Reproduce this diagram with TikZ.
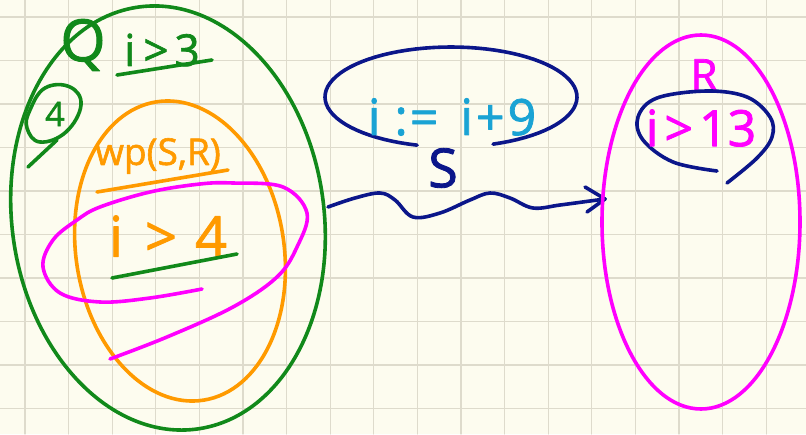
\documentclass[tikz,border=0pt]{standalone}
\usepackage{fontspec}
\setmainfont{Open Sans}[FakeBold=1.6]
\definecolor{bg}{HTML}{FDFCEF}
\definecolor{gridc}{HTML}{DEDBCC}
\definecolor{pgreen}{HTML}{11891A}
\definecolor{porange}{HTML}{FF9A00}
\definecolor{pmag}{HTML}{FF00FF}
\definecolor{pnavy}{HTML}{0B168A}
\definecolor{pcyan}{HTML}{1AA3D4}
\newcommand{\fs}[1]{\fontsize{#1}{#1}\selectfont}
\begin{document}
\begin{tikzpicture}[x=1pt,y=-1pt, line cap=round, line join=round,
  pen/.style={line width=3.6pt},
  gridline/.style={gridc, line width=1.1pt},
  txt/.style={inner sep=0pt, anchor=center}]
\fill[bg] (0,0) rectangle (806,434);
\useasboundingbox (0,0) rectangle (806,434);
\foreach \i in {0,...,18} \draw[gridline] ({25+43.6*\i},0) -- ({25+43.6*\i},434);
\foreach \j in {0,...,9} \draw[gridline] (0,{17+43.5*\j}) -- (806,{17+43.5*\j});

% left sets
\draw[pen,pgreen,rotate around={8:(168,218)}] (168,218) ellipse [x radius=156, y radius=213];
\draw[pen,porange,rotate around={9:(180,251)}] (180,251) ellipse [x radius=104, y radius=151];
\draw[pen,pmag] plot[smooth, tension=0.6] coordinates {(202,289) (150,298) (100,302) (60,293) (43,267) (53,240) (77,220) (100,207) (150,192) (200,184) (233,183) (283,187) (307,213) (297,247) (277,277) (233,307) (167,337) (110,359)};

\node[txt,pgreen] (q) at (83,45) {\fs{58}Q};
\node[txt,pgreen] (pre) at (162,50) {\fs{44}i\hspace{8pt}>\hspace{6pt}3};
\draw[pen,pgreen] (117,75) -- (212,60);
\draw[pen,pgreen] plot[smooth cycle, tension=0.7] coordinates {(30,110) (45,88) (70,87) (81,105) (66,132) (40,142) (27,128)};
\node[txt,pgreen] (four) at (55,114) {\fs{34}4};
\draw[pen,pgreen] (28,167) -- (57,140);

\node[txt,porange] (wp) at (158,156) {\fs{37}wp(S,R)};
\draw[pen,porange] (97,192) -- (228,170);
\node[txt,porange] (wpv) at (168,236) {\fs{56}i\hspace{22pt}>\hspace{18pt}4};
\draw[pen,pgreen] (112,278) -- (237,254);

% statement
\draw[pen,pnavy] plot[domain=105.6:430.5, samples=80] ({451+126*cos(\x)},{97+50*sin(\x)});
\node[txt,pcyan] (stmt) at (452,117) {\fs{50}i\hspace{14pt}:\hspace{2pt}=\hspace{22pt}i\hspace{3pt}+\hspace{3pt}9};
\node[txt,pnavy] (s) at (443,168) {\fs{54}S};
\coordinate (a0) at (328,207);
\coordinate (a1) at (605,199);
\draw[pen,pnavy] plot[smooth, tension=0.6] coordinates {(a0) (355,198) (380,193) (395,200) (413,217) (440,213) (470,200) (490,193) (510,198) (533,208) (560,205) (590,201) (a1)};
\draw[pen,pnavy] (585,187) -- (a1) -- (587,212);

% right set
\draw[pen,pmag] (701,222) ellipse [x radius=99, y radius=187];
\node[txt,pmag] (r) at (704,75) {\fs{44}R};
\draw[pen,pnavy] plot[smooth, tension=0.6] coordinates {(717,171) (673,162) (643,140) (638,117) (657,98) (707,91) (747,97) (770,117) (772,137) (757,158) (727,183)};
\node[txt,pmag] (post) at (701,128) {\fs{50}i\hspace{6pt}>\hspace{6pt}13};
\end{tikzpicture}
\end{document}
